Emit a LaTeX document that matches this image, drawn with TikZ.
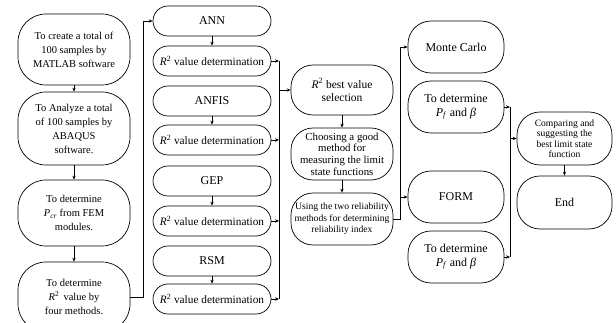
\documentclass[tikz,border=0pt]{standalone}
\usepackage{fontspec}
\setmainfont{Liberation Serif}
\usetikzlibrary{arrows.meta,calc}
\begin{document}
\begin{tikzpicture}[x=1pt,y=-1pt,
  box/.style={draw, line width=0.7pt, align=center, inner sep=0pt},
  c1/.style={box, rounded corners=28pt, minimum width=112pt, font=\fontsize{10.5}{14}\selectfont},
  meth/.style={box, rounded corners=15pt, minimum width=118pt, minimum height=30pt, font=\fontsize{12}{14}\selectfont},
  rsq/.style={box, rounded corners=15pt, minimum width=118pt, minimum height=30pt, font=\fontsize{11.3}{13}\selectfont},
  c3/.style={box, rounded corners=22pt, minimum width=102pt},
  c4/.style={box, rounded corners=23pt, minimum width=96pt, minimum height=52pt, font=\fontsize{12}{13.5}\selectfont},
  c5/.style={box, rounded corners=23pt, minimum width=95pt, minimum height=53pt},
  arr/.style={-{Stealth[length=4pt,width=3.4pt]}, line width=0.7pt},
  ln/.style={line width=0.7pt}]
\useasboundingbox (0,0) rectangle (616,323);
% column 1
\node[c1, minimum height=71pt] (b1) at (74,49.5) {To create a total of\\100 samples by\\MATLAB software};
\node[c1, minimum height=73pt] (b2) at (74,128.5) {To Analyze a total\\of 100 samples by\\ABAQUS\\software.};
\node[c1, minimum height=66pt] (b3) at (74,213) {To determine\\\textit{P}\textsubscript{\textit{cr}} from FEM\\modules.};
\node[c1, minimum height=70pt] (b4) at (74,297) {To determine\\\textit{R}\textsuperscript{2}\, value by\\four methods.};
\draw[arr] (b1) -- (b2);
\draw[arr] (b2) -- (b3);
\draw[arr] (b3) -- (b4);
% column 2
\node[meth] (ann) at (212,21) {ANN};
\node[rsq] (r1) at (212,61) {\textit{R}\textsuperscript{2} value determination};
\node[meth] (anfis) at (212,101) {ANFIS};
\node[rsq] (r2) at (212,140) {\textit{R}\textsuperscript{2} value determination};
\node[meth] (gep) at (212,181) {GEP};
\node[rsq] (r3) at (212,221) {\textit{R}\textsuperscript{2} value determination};
\node[meth] (rsm) at (212,261) {RSM};
\node[rsq] (r4) at (212,299) {\textit{R}\textsuperscript{2} value determination};
\draw[arr] (ann) -- (r1);
\draw[arr] (anfis) -- (r2);
\draw[arr] (gep) -- (r3);
\draw[arr] (rsm) -- (r4);
\coordinate (j1) at (143,0);
\draw[arr] (b4.east) -- (j1 |- b4.east) -- (j1 |- ann.west) -- (ann.west);
% column 3
\node[c3, minimum height=50pt, font=\fontsize{11.5}{13}\selectfont] (best) at (342,90) {\textit{R}\textsuperscript{2} best value\\selection};
\node[c3, minimum height=52pt, font=\fontsize{10.8}{11.7}\selectfont] (choose) at (342,154) {Choosing a good\\method for\\measuring the limit\\state functions};
\node[c3, minimum height=52pt, font=\fontsize{9.6}{11.5}\selectfont] (using) at (342,219) {Using the two reliability\\methods for determining\\reliability index};
\draw[arr] (best) -- (choose);
\draw[arr] (choose) -- (using);
\coordinate (j2) at (279,0);
\draw[arr] (r1.east) -- (j2 |- r1.east);
\draw[arr] (r2.east) -- (j2 |- r2.east);
\draw[arr] (r3.east) -- (j2 |- r3.east);
\draw[arr] (r4.east) -- (j2 |- r4.east);
\draw[ln] (j2 |- r1.east) -- (j2 |- r4.east);
\draw[arr] (j2 |- best.west) -- (best.west);
% column 4
\node[c4] (mc) at (456,47) {Monte Carlo};
\node[c4] (pf1) at (456,107) {To determine\\\textit{P}\textsubscript{\textit{f}} and \textit{β}};
\node[c4] (form) at (456,197) {FORM};
\node[c4] (pf2) at (456,257) {To determine\\\textit{P}\textsubscript{\textit{f}} and \textit{β}};
\coordinate (j3) at (400,0);
\draw[ln] (using.east) -- (j3 |- using.east) -- (j3 |- mc.west);
\draw[arr] (j3 |- mc.west) -- (mc.west);
\draw[arr] (j3 |- form.west) -- (form.west);
% column 5
\node[c5, font=\fontsize{9.6}{10.5}\selectfont] (cmp) at (564.5,138.5) {Comparing and\\suggesting the\\best limit state\\function};
\node[c5, font=\fontsize{12}{14}\selectfont] (end) at (564.5,202.5) {End};
\draw[arr] (cmp) -- (end);
\coordinate (j4) at (510,0);
\draw[arr] (pf1.east) -- (j4 |- pf1.east);
\draw[arr] (pf2.east) -- (j4 |- pf2.east);
\draw[ln] (j4 |- pf1.east) -- (j4 |- pf2.east);
\draw[arr] (j4 |- cmp.west) -- (cmp.west);
\end{tikzpicture}
\end{document}
